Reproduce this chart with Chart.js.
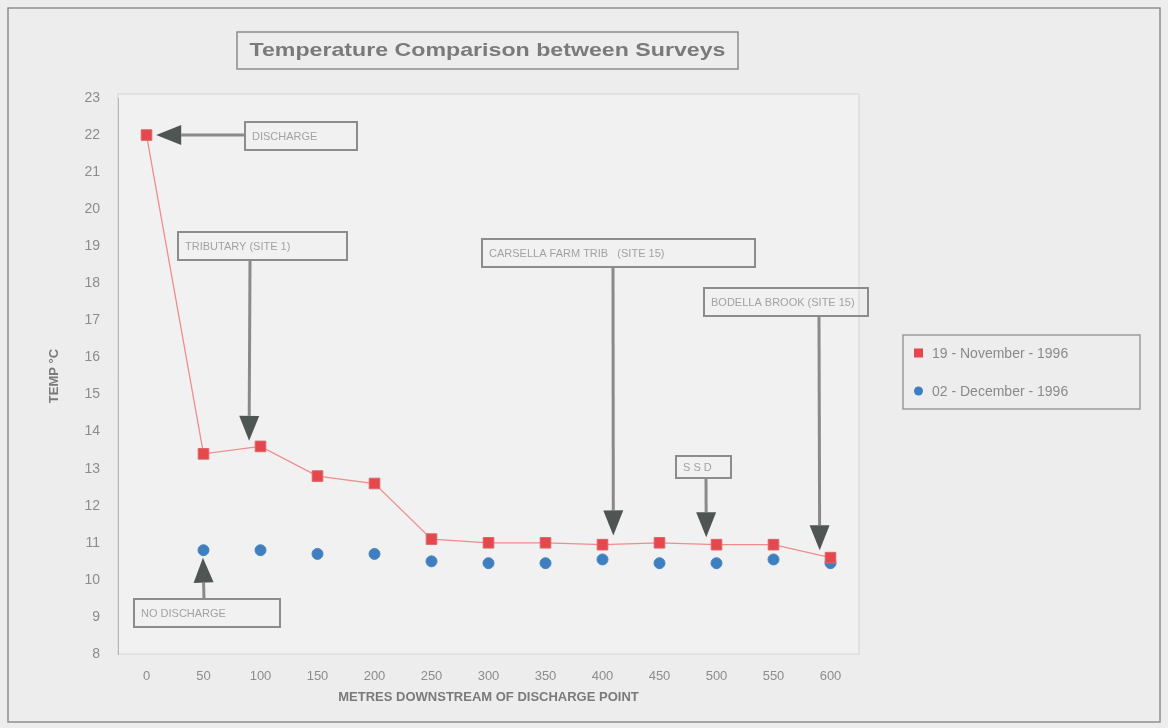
<!DOCTYPE html>
<html>
<head>
<meta charset="utf-8">
<script src="https://cdn.jsdelivr.net/npm/chart.js@4.4.1/dist/chart.umd.min.js"></script>
<style>
  body { margin: 0; background: #ededed; }
  canvas { display: block; }
</style>
</head>
<body>
<canvas id="myChart" width="1168" height="728"></canvas>
<script>
// Distances downstream (metres) and temperatures
const distances = ['0', '50', '100', '150', '200', '250', '300', '350', '400', '450', '500', '550', '600'];
const tempNov = [22, 13.4, 13.6, 12.8, 12.6, 11.1, 11.0, 11.0, 10.95, 11.0, 10.95, 10.95, 10.6];
const tempDec = [null, 10.8, 10.8, 10.7, 10.7, 10.5, 10.45, 10.45, 10.55, 10.45, 10.45, 10.55, 10.45];
const seriesLabels = ['19 - November - 1996', '02 - December - 1996'];
const chartTitle = 'Temperature Comparison between Surveys';

// Callout boxes: text, box rectangle (px), arrow tip in data space (category index, temp)
const callouts = [
    { text: 'DISCHARGE', box: [245, 122, 112, 28], tip: [0.17, 22], dir: 'left' },
    { text: 'TRIBUTARY (SITE 1)', box: [178, 232, 169, 28], tip: [1.8, 13.75], dir: 'down', from: 250 },
    { text: 'CARSELLA FARM TRIB   (SITE 15)', box: [482, 239, 273, 28], tip: [8.19, 11.2], dir: 'down', from: 613 },
    { text: 'BODELLA BROOK (SITE 15)', box: [704, 288, 164, 28], tip: [11.81, 10.8], dir: 'down', from: 819 },
    { text: 'S S D', box: [676, 456, 55, 22], tip: [9.82, 11.15], dir: 'down', from: 706 },
    { text: 'NO DISCHARGE', box: [134, 599, 146, 28], tip: [0.99, 10.6], dir: 'up', from: 204 }
];

const FONT = "'Liberation Sans', Arial, sans-serif";

// Draw an arrow with a dark filled head
function drawArrow(ctx, x1, y1, x2, y2) {
    const ang = Math.atan2(y2 - y1, x2 - x1);
    const headLen = 25;
    const headW = 10;
    const bx = x2 - headLen * Math.cos(ang);
    const by = y2 - headLen * Math.sin(ang);
    ctx.save();
    ctx.strokeStyle = '#8a8a8a';
    ctx.lineWidth = 3;
    ctx.beginPath();
    ctx.moveTo(x1, y1);
    ctx.lineTo(bx, by);
    ctx.stroke();
    ctx.fillStyle = '#4f5552';
    ctx.beginPath();
    ctx.moveTo(x2, y2);
    ctx.lineTo(bx + headW * Math.sin(ang), by - headW * Math.cos(ang));
    ctx.lineTo(bx - headW * Math.sin(ang), by + headW * Math.cos(ang));
    ctx.closePath();
    ctx.fill();
    ctx.restore();
}

const decorPlugin = {
    id: 'decor',
    beforeDraw(chart) {
        const ctx = chart.ctx;
        const a = chart.chartArea;
        ctx.save();
        ctx.fillStyle = '#ededed';
        ctx.fillRect(0, 0, chart.width, chart.height);
        // outer frame
        ctx.strokeStyle = '#8f8f8f';
        ctx.lineWidth = 1.5;
        ctx.strokeRect(8, 8, chart.width - 16, chart.height - 14);
        // plot area
        ctx.fillStyle = '#f1f1f1';
        ctx.fillRect(a.left, a.top - 4, a.right - a.left, a.bottom - a.top + 4);
        ctx.strokeStyle = '#d4d4d4';
        ctx.lineWidth = 1;
        ctx.strokeRect(a.left, a.top - 4, a.right - a.left, a.bottom - a.top + 4);
        ctx.restore();
    },
    afterDatasetsDraw(chart) {
        const ctx = chart.ctx;
        const xs = chart.scales.x;
        const ys = chart.scales.y;
        ctx.save();

        // callouts
        callouts.forEach(c => {
            const [bx, by, bw, bh] = c.box;
            ctx.strokeStyle = '#8c8c8c';
            ctx.lineWidth = 2;
            ctx.strokeRect(bx, by, bw, bh);
            ctx.fillStyle = '#a2a2a2';
            ctx.font = '11px ' + FONT;
            ctx.textBaseline = 'middle';
            ctx.textAlign = 'left';
            ctx.fillText(c.text, bx + 7, by + bh / 2 + 1);

            const tx = xs.getPixelForValue(c.tip[0]);
            const ty = ys.getPixelForValue(c.tip[1]);
            if (c.dir === 'left') {
                drawArrow(ctx, bx, ty, tx, ty);
            } else if (c.dir === 'down') {
                drawArrow(ctx, c.from, by + bh, tx, ty);
            } else {
                drawArrow(ctx, c.from, by, tx, ty);
            }
        });

        // title box
        ctx.strokeStyle = '#8c8c8c';
        ctx.lineWidth = 1.5;
        ctx.strokeRect(237, 32, 501, 37);
        ctx.fillStyle = '#7a7a7a';
        ctx.font = 'bold 19px ' + FONT;
        ctx.textAlign = 'center';
        ctx.textBaseline = 'middle';
        const tw = ctx.measureText(chartTitle).width;
        const sx = 476 / tw;
        ctx.save();
        ctx.translate(487.5, 51);
        ctx.scale(sx, 1);
        ctx.fillText(chartTitle, 0, 0);
        ctx.restore();

        // legend
        ctx.strokeStyle = '#9a9a9a';
        ctx.lineWidth = 1.5;
        ctx.strokeRect(903, 335, 237, 74);
        ctx.font = '14px ' + FONT;
        ctx.textAlign = 'left';
        chart.data.datasets.forEach((ds, i) => {
            const ly = 353 + i * 38;
            ctx.fillStyle = ds.pointBackgroundColor;
            if (ds.pointStyle === 'rect') {
                ctx.fillRect(914, ly - 4.5, 9, 9);
            } else {
                ctx.beginPath();
                ctx.arc(918.5, ly, 4.5, 0, Math.PI * 2);
                ctx.fill();
            }
            ctx.fillStyle = '#8a8a8a';
            ctx.fillText(ds.label, 932, ly + 1);
        });
        ctx.restore();
    }
};

const ctx = document.getElementById('myChart').getContext('2d');
const myChart = new Chart(ctx, {
    type: 'line',
    data: {
        labels: distances,
        datasets: [{
            label: seriesLabels[0],
            data: tempNov,
            borderColor: '#f28b8b',
            borderWidth: 1.3,
            pointStyle: 'rect',
            pointRadius: 7.5,
            pointBackgroundColor: '#e6474d',
            pointBorderColor: '#d9686b',
            pointBorderWidth: 1,
            tension: 0
        }, {
            label: seriesLabels[1],
            data: tempDec,
            showLine: false,
            pointStyle: 'circle',
            pointRadius: 5.5,
            pointBackgroundColor: '#3e7fc2',
            pointBorderColor: '#4a86c0',
            pointBorderWidth: 1
        }]
    },
    options: {
        responsive: false,
        animation: false,
        layout: { padding: { left: 0, top: 98, right: 309, bottom: 0 } },
        plugins: {
            legend: { display: false },
            title: { display: false },
            tooltip: { enabled: false }
        },
        scales: {
            x: {
                type: 'category',
                offset: true,
                afterFit: (scale) => { scale.height = 74; },
                grid: { display: false, drawTicks: false },
                border: { display: false },
                ticks: {
                    padding: 15,
                    color: '#8c8c8c',
                    font: { family: FONT, size: 13 },
                    maxRotation: 0,
                    autoSkip: false
                },
                title: {
                    display: true,
                    text: 'METRES DOWNSTREAM OF DISCHARGE POINT',
                    color: '#7a7a7a',
                    font: { family: FONT, size: 13, weight: 'bold' },
                    padding: { top: 0, bottom: 23 }
                }
            },
            y: {
                min: 8,
                max: 23,
                afterFit: (scale) => { scale.width = 118; },
                grid: { display: false, drawTicks: false },
                border: { display: true, color: '#b5b5b5', width: 1 },
                ticks: {
                    stepSize: 1,
                    padding: 18,
                    color: '#8c8c8c',
                    font: { family: FONT, size: 14 }
                },
                title: {
                    display: true,
                    text: 'TEMP °C',
                    color: '#7a7a7a',
                    font: { family: FONT, size: 13, weight: 'bold' },
                    padding: { top: 47, bottom: 0 }
                }
            }
        }
    },
    plugins: [decorPlugin]
});
</script>
</body>
</html>
